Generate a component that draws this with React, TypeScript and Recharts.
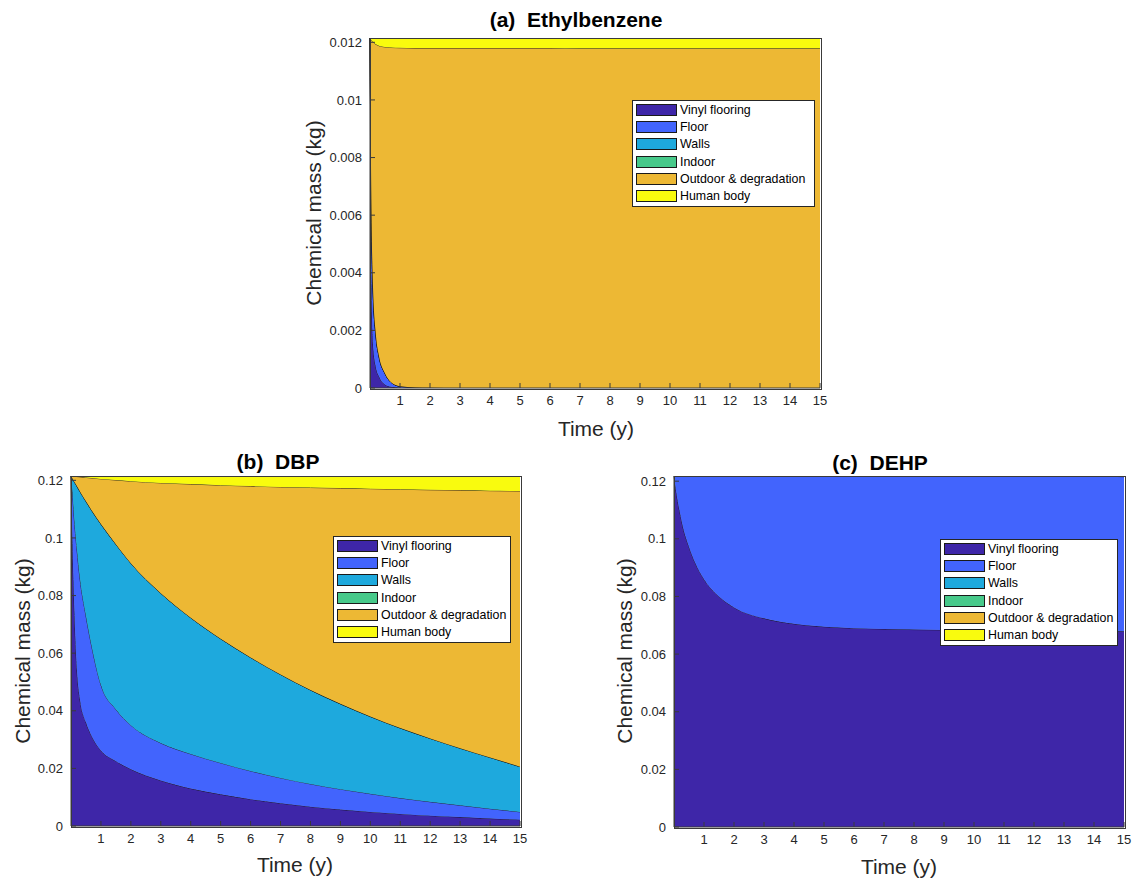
import React from "react";
import { AreaChart, Area, XAxis, YAxis, Legend } from "recharts";

// time points (years) shared by the three panels
const TIME = [0, 0.05, 0.1, 0.2, 0.3, 0.5, 0.7, 1, 1.5, 2, 3, 4, 5, 6, 7, 8, 9, 10, 11, 12, 13, 14, 15];
const X_TICKS = [1, 2, 3, 4, 5, 6, 7, 8, 9, 10, 11, 12, 13, 14, 15];

const SERIES_NAMES = ["Vinyl flooring", "Floor", "Walls", "Indoor", "Outdoor & degradation", "Human body"];
const SERIES_COLORS = ["#3E26A8", "#4264FD", "#1EA9DD", "#47C98A", "#EDB834", "#F9FB0E"];

// (a) Ethylbenzene, kg
const ETHYL_VINYL = [0.01215, 0.0035, 0.0015, 0.0007, 0.0004, 0.00012, 0.00004, 0.00001, 0, 0, 0, 0, 0, 0, 0, 0, 0, 0, 0, 0, 0, 0, 0];
const ETHYL_FLOOR = [0, 0.0025, 0.002, 0.0011, 0.0007, 0.00038, 0.00016, 0.00005, 0.00002, 0.00001, 0, 0, 0, 0, 0, 0, 0, 0, 0, 0, 0, 0, 0];
const ETHYL_WALLS = [0, 0, 0, 0, 0, 0, 0, 0, 0, 0, 0, 0, 0, 0, 0, 0, 0, 0, 0, 0, 0, 0, 0];
const ETHYL_INDOOR = [0, 0, 0, 0, 0, 0, 0, 0, 0, 0, 0, 0, 0, 0, 0, 0, 0, 0, 0, 0, 0, 0, 0];
const ETHYL_OUTDOOR = [0, 0.00607, 0.00851, 0.01013, 0.01078, 0.01134, 0.01162, 0.01175, 0.01178, 0.01179, 0.0118, 0.0118, 0.0118, 0.0118, 0.01179, 0.01179, 0.01179, 0.01179, 0.01179, 0.01179, 0.01179, 0.01179, 0.01179];
const ETHYL_HUMAN = [0, 0.00008, 0.00014, 0.00022, 0.00027, 0.00031, 0.00033, 0.00034, 0.00035, 0.00035, 0.00035, 0.00035, 0.00035, 0.00035, 0.00036, 0.00036, 0.00036, 0.00036, 0.00036, 0.00036, 0.00036, 0.00036, 0.00036];

// (b) DBP, kg
const DBP_VINYL = [0.1215, 0.098, 0.079, 0.054, 0.044, 0.036, 0.031, 0.0262, 0.0225, 0.0197, 0.0158, 0.013, 0.011, 0.0093, 0.0079, 0.0067, 0.0057, 0.0049, 0.0042, 0.0036, 0.0031, 0.0026, 0.0022];
const DBP_FLOOR = [0, 0.018, 0.029, 0.042, 0.042, 0.037, 0.031, 0.0228, 0.018, 0.0153, 0.013, 0.012, 0.0109, 0.0098, 0.0088, 0.0079, 0.0071, 0.0063, 0.0055, 0.0048, 0.0041, 0.0034, 0.0027];
const DBP_WALLS = [0, 0.0046, 0.0117, 0.0219, 0.0301, 0.0397, 0.0474, 0.0558, 0.0573, 0.0562, 0.052, 0.0473, 0.0431, 0.0394, 0.0359, 0.0326, 0.0296, 0.0268, 0.0243, 0.022, 0.0198, 0.0178, 0.0157];
const DBP_INDOOR = [0, 0, 0, 0, 0, 0, 0, 0, 0, 0, 0, 0, 0, 0, 0, 0, 0, 0, 0, 0, 0, 0, 0];
const DBP_OUTDOOR = [0, 0.0009, 0.0017, 0.0034, 0.0051, 0.0083, 0.0114, 0.0157, 0.0223, 0.0285, 0.0383, 0.0464, 0.0533, 0.0595, 0.0651, 0.0703, 0.0749, 0.0791, 0.0829, 0.0863, 0.0896, 0.0926, 0.0957];
const DBP_HUMAN = [0, 0, 0.0001, 0.0002, 0.0003, 0.0005, 0.0007, 0.001, 0.0014, 0.0018, 0.0024, 0.0028, 0.0032, 0.0035, 0.0038, 0.004, 0.0042, 0.0044, 0.0046, 0.0048, 0.0049, 0.0051, 0.0052];

// (c) DEHP, kg
const DEHP_VINYL = [0.1218, 0.118, 0.1145, 0.109, 0.104, 0.0972, 0.0918, 0.086, 0.08, 0.0762, 0.0724, 0.0705, 0.0695, 0.069, 0.0687, 0.0685, 0.0684, 0.0683, 0.0682, 0.0681, 0.068, 0.068, 0.0679];
const DEHP_FLOOR = [0, 0.0038, 0.0073, 0.0128, 0.0178, 0.0246, 0.03, 0.0358, 0.0418, 0.0456, 0.0494, 0.0512, 0.0522, 0.0527, 0.053, 0.0532, 0.0533, 0.0534, 0.0535, 0.0536, 0.0537, 0.0537, 0.0537];
const DEHP_WALLS = [0, 0, 0, 0, 0, 0, 0, 0, 0, 0, 0, 0, 0, 0, 0, 0, 0, 0, 0, 0, 0, 0, 0];
const DEHP_INDOOR = [0, 0, 0, 0, 0, 0, 0, 0, 0, 0, 0, 0, 0, 0, 0, 0, 0, 0, 0, 0, 0, 0, 0];
const DEHP_OUTDOOR = [0, 0, 0, 0, 0, 0, 0.00001, 0.00001, 0.00002, 0.00003, 0.00004, 0.00005, 0.00006, 0.00007, 0.00008, 0.00009, 0.0001, 0.00011, 0.00012, 0.00013, 0.00014, 0.00015, 0.00016];
const DEHP_HUMAN = [0, 0, 0, 0, 0, 0, 0, 0, 0, 0, 0, 0, 0, 0, 0, 0, 0, 0, 0, 0, 0, 0, 0];

const ETHYL_TICKS = [0, 0.002, 0.004, 0.006, 0.008, 0.01, 0.012];
const PHTHALATE_TICKS = [0, 0.02, 0.04, 0.06, 0.08, 0.1, 0.12];

const FONT = "'Liberation Sans', Arial, Helvetica, sans-serif";
const AXIS_COLOR = "#3a3a3a";
const TEXT_COLOR = "#262626";
const X_AXIS_HEIGHT = 30;

function buildRows(series: number[][]) {
  return TIME.map((t, i) => {
    const row: Record<string, number> = { t };
    series.forEach((s, k) => {
      row[`s${k}`] = s[i];
    });
    return row;
  });
}

function MatlabLegend({ width }: { width: number }) {
  return (
    <div
      style={{
        width,
        border: "1px solid #262626",
        background: "#fff",
        boxSizing: "border-box",
        padding: "0 0 1px 3px",
        fontFamily: FONT,
      }}
    >
      {SERIES_NAMES.map((name, i) => (
        <div key={name} style={{ display: "flex", alignItems: "center", height: 17.3 }}>
          <span
            style={{
              display: "inline-block",
              width: 41,
              height: 12,
              background: SERIES_COLORS[i],
              border: "1px solid #1a1a1a",
              boxSizing: "border-box",
              marginRight: 3,
            }}
          />
          <span style={{ fontSize: 12.4, lineHeight: "12px", color: "#000", whiteSpace: "nowrap" }}>{name}</span>
        </div>
      ))}
    </div>
  );
}

interface PanelProps {
  left: number;
  top: number;
  width: number;
  height: number;
  margin: { top: number; right: number; bottom: number; left: number };
  yAxisWidth: number;
  rows: Record<string, number>[];
  yMax: number;
  yTicks: number[];
  legend: { x: number; y: number; width: number };
}

function Panel({ left, top, width, height, margin, yAxisWidth, rows, yMax, yTicks, legend }: PanelProps) {
  const tickStyle = { fontSize: 13, fill: TEXT_COLOR, fontFamily: FONT };
  // the stacked areas sit in one chart, the MATLAB-style box with inward ticks in a
  // second chart on top, so the axes are not painted over by the fills
  const fillMargin = {
    top: margin.top,
    right: margin.right,
    bottom: margin.bottom + X_AXIS_HEIGHT,
    left: margin.left + yAxisWidth,
  };
  const plotW = width - fillMargin.left - fillMargin.right;
  const plotH = height - fillMargin.top - fillMargin.bottom;
  return (
    <div style={{ position: "absolute", left, top, width, height }}>
      <div style={{ position: "absolute", left: 0, top: 0 }}>
        <AreaChart width={width} height={height} data={rows} margin={fillMargin}>
          <XAxis dataKey="t" type="number" domain={[0, 15]} hide />
          <YAxis type="number" domain={[0, yMax]} allowDataOverflow hide />
          {SERIES_NAMES.map((name, k) => (
            <Area
              key={name}
              name={name}
              dataKey={`s${k}`}
              stackId="mass"
              type="monotone"
              fill={SERIES_COLORS[k]}
              fillOpacity={1}
              stroke="#111"
              strokeWidth={0.8}
              dot={false}
              activeDot={false}
              isAnimationActive={false}
            />
          ))}
        </AreaChart>
      </div>
      {/* axes box */}
      <div
        style={{
          position: "absolute",
          left: fillMargin.left - 0.5,
          top: fillMargin.top - 0.5,
          width: plotW,
          height: plotH,
          border: `1px solid ${AXIS_COLOR}`,
          pointerEvents: "none",
        }}
      />
      <div style={{ position: "absolute", left: 0, top: 0 }}>
        <AreaChart width={width} height={height} data={rows} margin={margin}>
          <XAxis
            dataKey="t"
            type="number"
            domain={[0, 15]}
            ticks={X_TICKS}
            interval={0}
            height={X_AXIS_HEIGHT}
            tickSize={-5}
            tickMargin={13}
            tick={tickStyle}
            axisLine={{ stroke: AXIS_COLOR }}
            tickLine={{ stroke: AXIS_COLOR }}
          />
          <XAxis
            xAxisId="top"
            orientation="top"
            dataKey="t"
            type="number"
            domain={[0, 15]}
            ticks={X_TICKS}
            interval={0}
            height={0}
            tickSize={-5}
            tickFormatter={() => ""}
            axisLine={{ stroke: AXIS_COLOR }}
            tickLine={{ stroke: AXIS_COLOR }}
          />
          <YAxis
            type="number"
            domain={[0, yMax]}
            allowDataOverflow
            ticks={yTicks}
            interval={0}
            width={yAxisWidth}
            tickSize={-5}
            tickMargin={13}
            tick={tickStyle}
            tickFormatter={(v: number) => String(v)}
            axisLine={{ stroke: AXIS_COLOR }}
            tickLine={{ stroke: AXIS_COLOR }}
          />
          <YAxis
            yAxisId="right"
            orientation="right"
            type="number"
            domain={[0, yMax]}
            allowDataOverflow
            ticks={yTicks}
            interval={0}
            width={0}
            tickSize={-5}
            tickFormatter={() => ""}
            axisLine={{ stroke: AXIS_COLOR }}
            tickLine={{ stroke: AXIS_COLOR }}
          />
          <Legend
            layout="vertical"
            align="center"
            verticalAlign="middle"
            content={() => <MatlabLegend width={legend.width} />}
            wrapperStyle={{ left: legend.x - left, top: legend.y - top, width: legend.width }}
          />
        </AreaChart>
      </div>
    </div>
  );
}

function Label({ x, y, text, size, bold, rotate }: { x: number; y: number; text: string; size: number; bold?: boolean; rotate?: boolean }) {
  return (
    <div
      style={{
        position: "absolute",
        left: x,
        top: y,
        transform: `translate(-50%, -50%)${rotate ? " rotate(-90deg)" : ""}`,
        fontFamily: FONT,
        fontSize: size,
        fontWeight: bold ? "bold" : "normal",
        color: bold ? "#000" : TEXT_COLOR,
        whiteSpace: "pre",
        lineHeight: 1,
      }}
    >
      {text}
    </div>
  );
}

export default function App() {
  const ethylRows = buildRows([ETHYL_VINYL, ETHYL_FLOOR, ETHYL_WALLS, ETHYL_INDOOR, ETHYL_OUTDOOR, ETHYL_HUMAN]);
  const dbpRows = buildRows([DBP_VINYL, DBP_FLOOR, DBP_WALLS, DBP_INDOOR, DBP_OUTDOOR, DBP_HUMAN]);
  const dehpRows = buildRows([DEHP_VINYL, DEHP_FLOOR, DEHP_WALLS, DEHP_INDOOR, DEHP_OUTDOOR, DEHP_HUMAN]);

  return (
    <div style={{ position: "absolute", left: 0, top: 0, width: 1141, height: 880, background: "#fff", overflow: "hidden" }}>
      {/* (a) Ethylbenzene */}
      <Panel
        left={290}
        top={0}
        width={560}
        height={440}
        margin={{ top: 38, right: 30, bottom: 22, left: 0 }}
        yAxisWidth={80}
        rows={ethylRows}
        yMax={0.01215}
        yTicks={ETHYL_TICKS}
        legend={{ x: 632, y: 100, width: 183 }}
      />
      <Label x={576} y={19} text="(a)  Ethylbenzene" size={21} bold />
      <Label x={313} y={213} text="Chemical mass (kg)" size={21} rotate />
      <Label x={596} y={428} text="Time (y)" size={21} />

      {/* (b) DBP */}
      <Panel
        left={0}
        top={440}
        width={560}
        height={440}
        margin={{ top: 36, right: 40, bottom: 24, left: 0 }}
        yAxisWidth={71}
        rows={dbpRows}
        yMax={0.1215}
        yTicks={PHTHALATE_TICKS}
        legend={{ x: 333, y: 536, width: 178 }}
      />
      <Label x={278} y={461} text="(b)  DBP" size={21} bold />
      <Label x={22} y={651} text="Chemical mass (kg)" size={21} rotate />
      <Label x={295} y={864} text="Time (y)" size={21} />

      {/* (c) DEHP */}
      <Panel
        left={580}
        top={440}
        width={561}
        height={440}
        margin={{ top: 36, right: 17, bottom: 23, left: 0 }}
        yAxisWidth={94}
        rows={dehpRows}
        yMax={0.1218}
        yTicks={PHTHALATE_TICKS}
        legend={{ x: 940, y: 539, width: 178 }}
      />
      <Label x={880} y={462} text="(c)  DEHP" size={21} bold />
      <Label x={624} y={651} text="Chemical mass (kg)" size={21} rotate />
      <Label x={899} y={866} text="Time (y)" size={21} />
    </div>
  );
}
